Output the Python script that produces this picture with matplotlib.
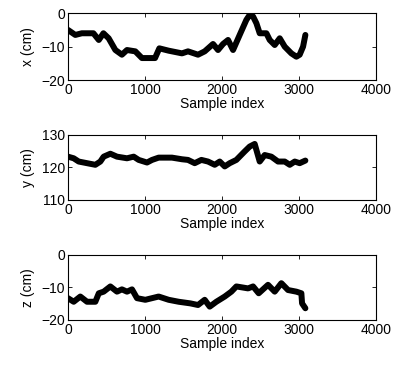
import matplotlib
matplotlib.use('Agg')
import matplotlib.pyplot as plt

plt.rcParams['font.family'] = ['Liberation Sans', 'DejaVu Sans']
plt.rcParams['font.size'] = 10

# values (sample index, cm)
x_idx = [0, 95, 180, 330, 400, 460, 528, 615, 700, 766, 874, 960, 1130, 1186, 1307,
         1480, 1558, 1688, 1775, 1883, 1948, 2013, 2078, 2143, 2229, 2316, 2359, 2403,
         2446, 2489, 2576, 2619, 2684, 2749, 2814, 2900, 2965, 3008, 3052, 3082]
x_val = [-5, -6.5, -6, -6, -8, -6, -7.5, -11, -12.4, -11, -11.4, -13.4, -13.4, -10.5, -11.2,
         -12, -11.4, -12.4, -11.4, -9.2, -11, -9.2, -8, -11, -6.5, -2, -0.5, -1,
         -3, -6, -6, -8, -9.5, -7.5, -10, -12, -13, -12.4, -10, -6.5]

y_idx = [0, 74, 139, 247, 355, 420, 463, 550, 636, 766, 853, 918, 1026, 1091, 1177,
         1350, 1480, 1558, 1645, 1732, 1818, 1905, 1970, 2035, 2100, 2186, 2294, 2359,
         2424, 2489, 2554, 2640, 2727, 2814, 2879, 2944, 3008, 3082]
y_val = [123.3, 122.8, 121.8, 121.3, 120.8, 121.8, 123.3, 124.2, 123.3, 122.8, 123.3, 122.3,
         121.5, 122.3, 123, 123, 122.5, 122.3, 121.3, 122.3, 121.8, 120.8, 121.8, 120.3,
         121.3, 122.3, 124.9, 126.4, 127.2, 121.8, 123.8, 123.3, 121.8, 121.8, 120.8,
         121.8, 121.3, 122.1]

z_idx = [0, 74, 160, 247, 355, 400, 463, 550, 636, 700, 766, 831, 896, 1004, 1177, 1307,
         1437, 1589, 1688, 1775, 1840, 1926, 2035, 2121, 2186, 2338, 2403, 2476, 2597,
         2684, 2770, 2857, 2965, 3030, 3039, 3082]
z_val = [-13.3, -14.4, -12.8, -14.4, -14.4, -11.8, -11.3, -9.7, -11.3, -10.6, -11.3, -10.6,
         -13.3, -13.8, -12.8, -13.8, -14.4, -14.9, -15.4, -13.8, -15.9, -14.4, -12.8, -11.3,
         -9.7, -10.3, -9.7, -11.8, -9.2, -11.3, -8.7, -10.8, -11.3, -11.8, -14.9, -16.4]

fig = plt.figure(figsize=(3.96, 3.66), dpi=100)

panels = [
    ([0.1717, 0.781, 0.778, 0.183], x_idx, x_val, 'x (cm)', (-20, 0), [-20, -10, 0]),
    ([0.1717, 0.4536, 0.778, 0.178], y_idx, y_val, 'y (cm)', (110, 130), [110, 120, 130]),
    ([0.1717, 0.1257, 0.778, 0.178], z_idx, z_val, 'z (cm)', (-20, 0), [-20, -10, 0]),
]

for rect, idx, val, lab, lim, ticks in panels:
    ax = fig.add_axes(rect)
    ax.plot(idx, val, color='black', lw=4.3, solid_capstyle='round', solid_joinstyle='round')
    ax.set_xlim(0, 4000)
    ax.set_ylim(*lim)
    ax.set_xticks([0, 1000, 2000, 3000, 4000])
    ax.set_yticks(ticks)
    ax.set_xlabel('Sample index', labelpad=0)
    ax.set_ylabel(lab, labelpad=5)
    ax.tick_params(direction='in', top=True, right=True, length=3, width=0.6, pad=2)
    for s in ax.spines.values():
        s.set_linewidth(0.8)

fig.savefig('out.png', dpi=100)
